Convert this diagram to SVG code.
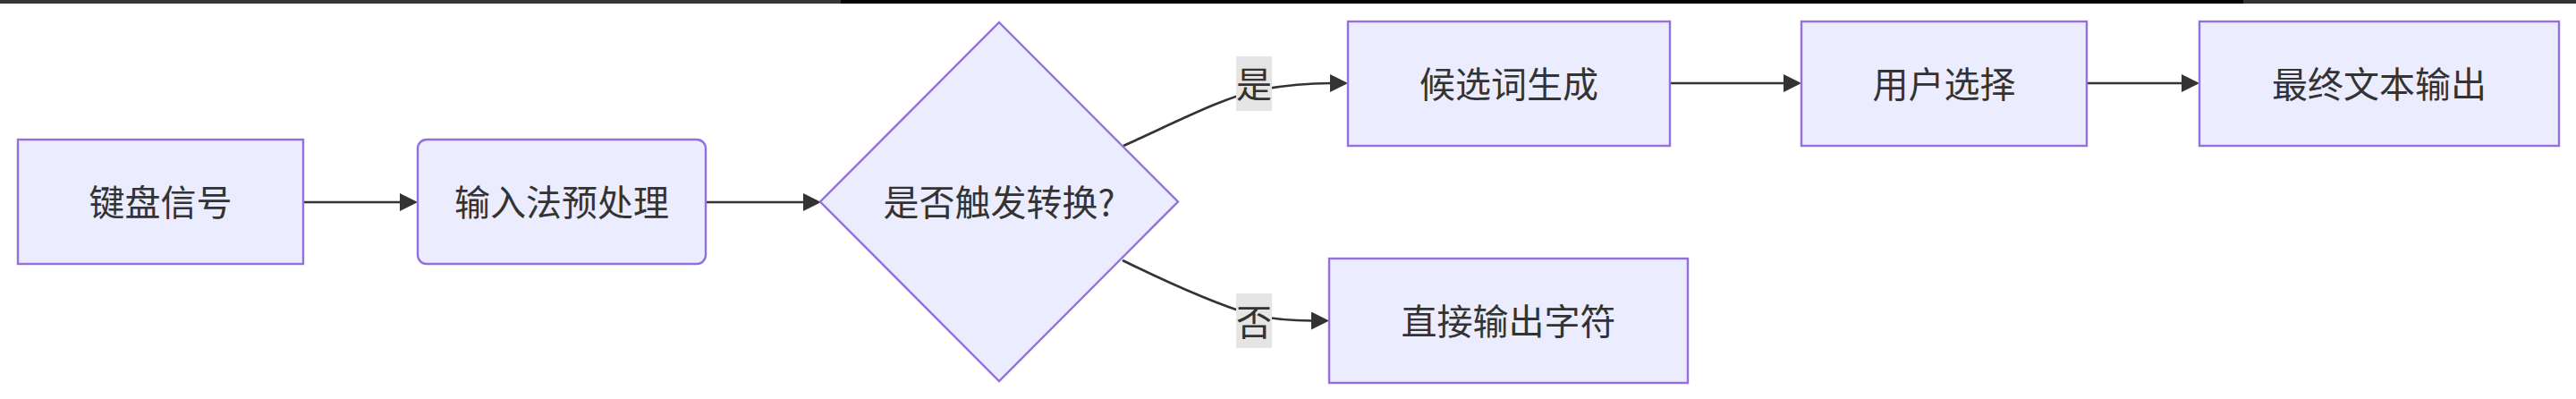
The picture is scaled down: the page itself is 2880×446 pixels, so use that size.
<svg xmlns="http://www.w3.org/2000/svg" width="2880" height="446" viewBox="0 0 2880 446">
<style>
.node rect, .node polygon { fill: #ECECFF; stroke: #9370DB; stroke-width: 2.4; }
.node text, .lbl text { font-family: "Noto Sans CJK SC", "Noto Sans", sans-serif; font-size: 40px; fill: #333333; text-anchor: middle; dominant-baseline: central; }
.edge { fill: none; stroke: #333333; stroke-width: 2.7; }
.lbl rect { fill: #E5E5E5; }
</style>
<defs>
<marker id="arrow" viewBox="0 0 20 20" refX="0" refY="10" markerWidth="20" markerHeight="20" markerUnits="userSpaceOnUse" orient="auto">
<path d="M0,0 L20,10 L0,20 z" fill="#333333"/>
</marker>
</defs>
<rect x="0" y="0" width="2880" height="446" fill="#FFFFFF"/>
<g id="topbar">
<rect x="0" y="0" width="940" height="4" fill="#363636"/>
<rect x="940" y="0" width="1568" height="4" fill="#050505"/>
<rect x="2508" y="0" width="372" height="4" fill="#333333"/>
</g>
<g id="connectors">
<path class="edge" d="M339,226 L447,226" marker-end="url(#arrow)"/>
<path class="edge" d="M789,226 L898,226" marker-end="url(#arrow)"/>
<path class="edge" d="M1256,163 C1320,134 1370,108 1410,100 C1440,95 1465,93 1487,93" marker-end="url(#arrow)"/>
<path class="edge" d="M1255,291 C1310,318 1360,340 1400,352 C1430,358 1450,358.5 1466,358.5" marker-end="url(#arrow)"/>
<path class="edge" d="M1867,93 L1994,93" marker-end="url(#arrow)"/>
<path class="edge" d="M2333,93 L2439,93" marker-end="url(#arrow)"/>
<g class="lbl" id="label-yes">
<rect x="1382" y="63" width="40" height="61"/>
<text x="1402" y="92">是</text>
</g>
<g class="lbl" id="label-no">
<rect x="1382" y="328" width="40" height="61"/>
<text x="1402" y="357.5">否</text>
</g>
</g>
<g class="node" id="A">
<rect x="20" y="156" width="319" height="139"/>
<text x="179.5" y="224">键盘信号</text>
</g>
<g class="node" id="B">
<rect x="467" y="156" width="322" height="139" rx="10" ry="10"/>
<text x="628" y="224">输入法预处理</text>
</g>
<g class="node" id="C">
<polygon points="1117,25 1317,225.5 1117,426 917,225.5"/>
<text x="1117" y="224">是否触发转换?</text>
</g>
<g class="node" id="D">
<rect x="1507" y="24" width="360" height="139"/>
<text x="1687" y="92">候选词生成</text>
</g>
<g class="node" id="E">
<rect x="1486" y="289" width="401" height="139"/>
<text x="1686.5" y="357">直接输出字符</text>
</g>
<g class="node" id="F">
<rect x="2014" y="24" width="319" height="139"/>
<text x="2173.5" y="92">用户选择</text>
</g>
<g class="node" id="G">
<rect x="2459" y="24" width="402" height="139"/>
<text x="2660" y="92">最终文本输出</text>
</g>
</svg>
